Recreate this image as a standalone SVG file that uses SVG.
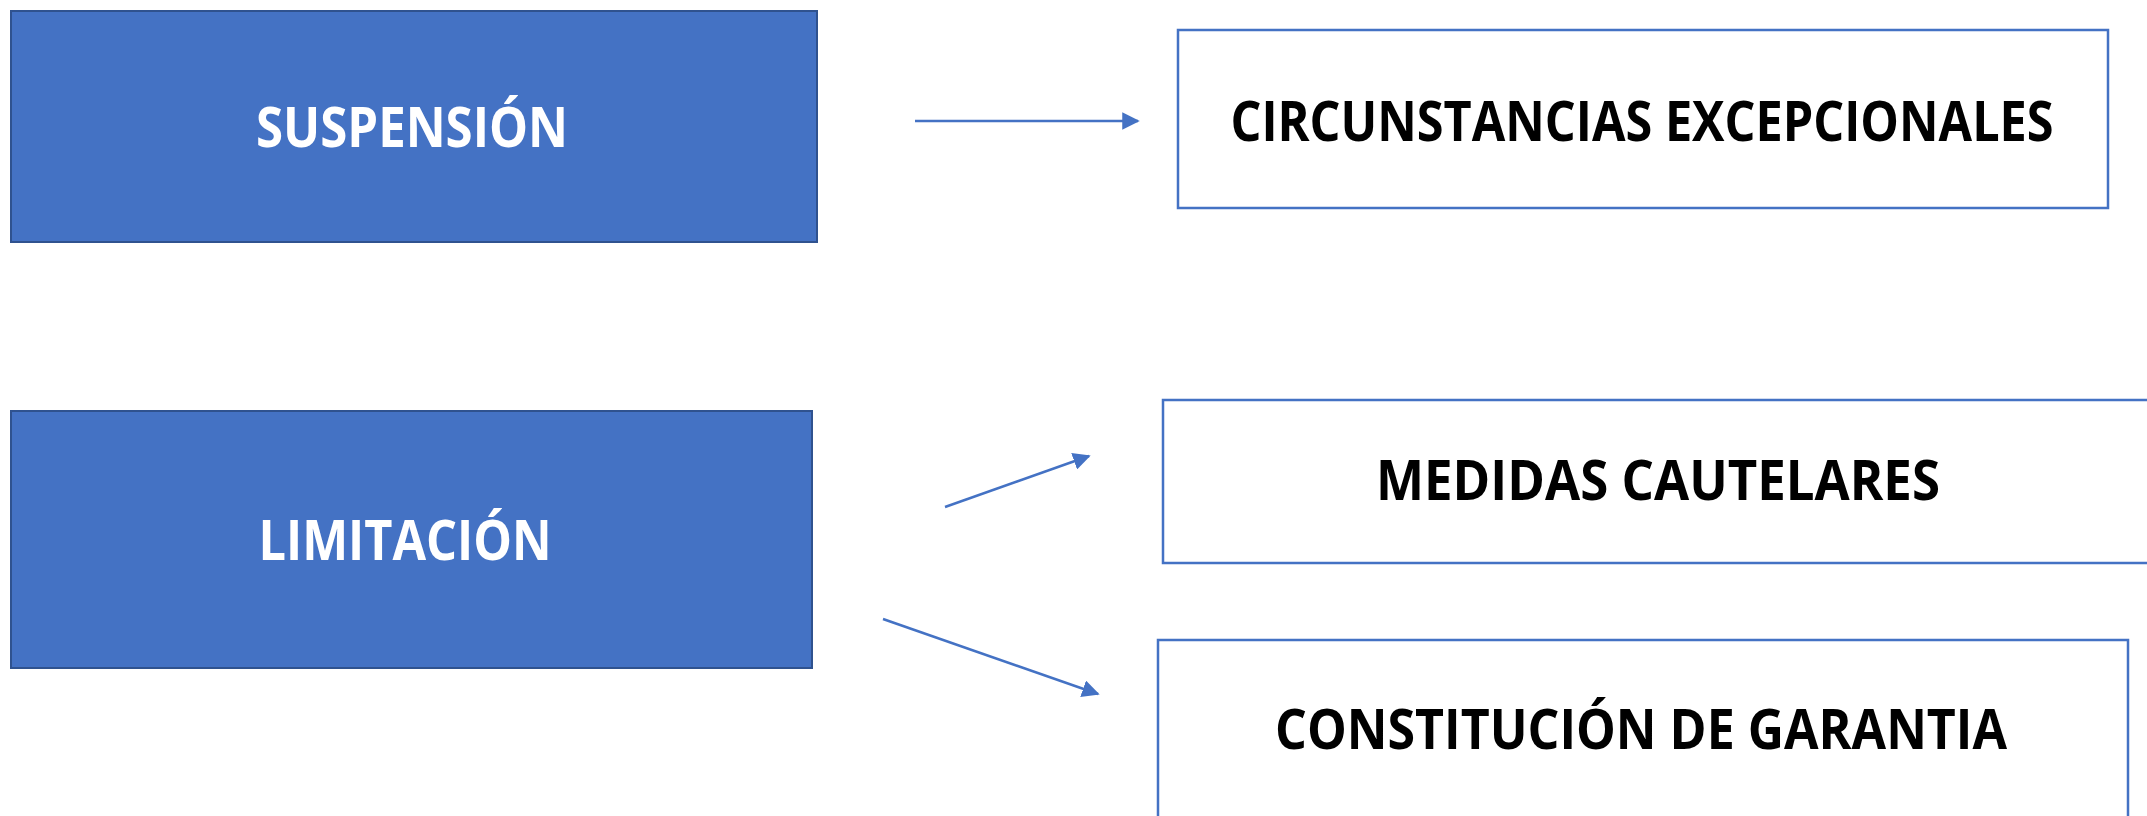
<svg xmlns="http://www.w3.org/2000/svg" width="2147" height="816" viewBox="0 0 2147 816">
<style>
.blue{fill:#4472C4;stroke:#2F528F;stroke-width:2}
.white{fill:#FFFFFF;stroke:#4472C4;stroke-width:2.5}
.lbl{font-family:"Open Sans","Noto Sans","Liberation Sans",sans-serif;font-weight:bold;font-size:56px}
.lw{fill:#FFFFFF}
.lb{fill:#000000}
.conn{stroke:#4472C4;stroke-width:2.5;fill:none;marker-end:url(#ah)}
</style>
<defs>
<marker id="ah" viewBox="0 0 10 10" refX="9" refY="5" markerWidth="7" markerHeight="7" orient="auto" markerUnits="strokeWidth">
<path d="M0,0 L10,5 L0,10 z" fill="#4472C4"/>
</marker>
</defs>
<rect width="2147" height="816" fill="#FFFFFF"/>
<g id="suspension">
<rect class="blue" x="11" y="11" width="806" height="231"/>
<text class="lbl lw" x="412" y="147" text-anchor="middle" textLength="312" lengthAdjust="spacingAndGlyphs">SUSPENSIÓN</text>
</g>
<g id="circunstancias">
<rect class="white" x="1178" y="30" width="930" height="178"/>
<text class="lbl lb" transform="translate(1642,141) scale(0.8,1)" x="0" y="0" text-anchor="middle" textLength="1029" lengthAdjust="spacingAndGlyphs">CIRCUNSTANCIAS EXCEPCIONALES</text>
</g>
<g id="limitacion">
<rect class="blue" x="11" y="411" width="801" height="257"/>
<text class="lbl lw" x="405" y="560" text-anchor="middle" textLength="293" lengthAdjust="spacingAndGlyphs">LIMITACIÓN</text>
</g>
<g id="medidas">
<rect class="white" x="1163" y="400" width="1000" height="163"/>
<text class="lbl lb" x="1658" y="500" text-anchor="middle" textLength="564" lengthAdjust="spacingAndGlyphs">MEDIDAS CAUTELARES</text>
</g>
<g id="constitucion">
<rect class="white" x="1158" y="640" width="970" height="200"/>
<text class="lbl lb" x="1641" y="749" text-anchor="middle" textLength="732" lengthAdjust="spacingAndGlyphs">CONSTITUCIÓN DE GARANTIA</text>
</g>
<g id="connectors">
<line class="conn" x1="915" y1="121" x2="1138" y2="121"/>
<line class="conn" x1="945" y1="507" x2="1089" y2="456"/>
<line class="conn" x1="883" y1="619" x2="1098" y2="694"/>
</g>
</svg>
